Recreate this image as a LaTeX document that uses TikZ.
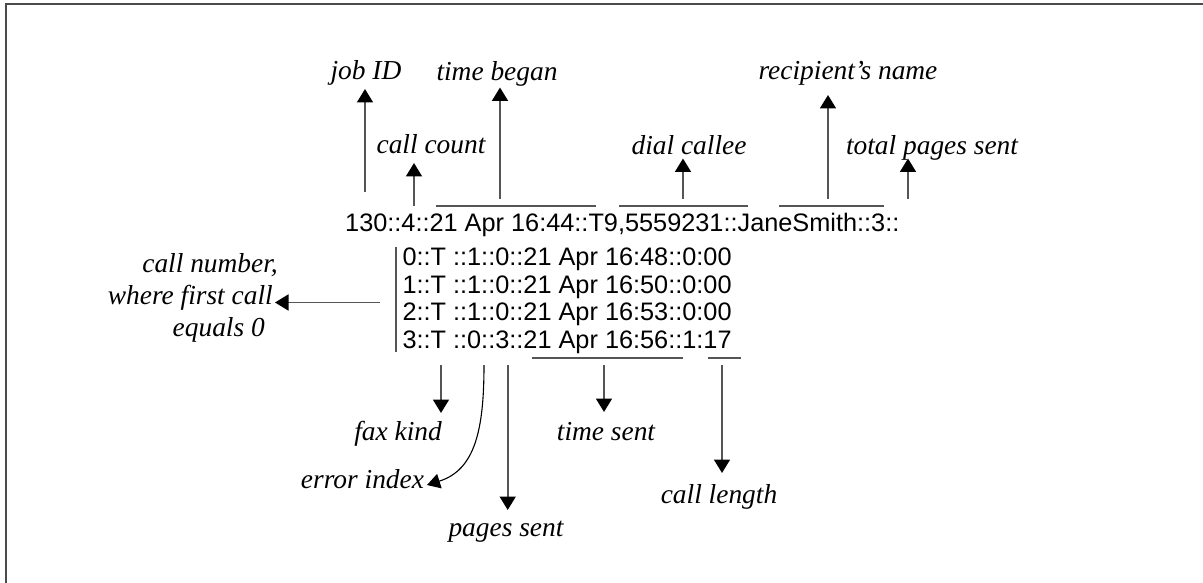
\documentclass[tikz,border=0pt]{standalone}
\usepackage{fontspec}
\setmainfont{Liberation Serif}
\newfontfamily\datafont{Liberation Sans}
\usetikzlibrary{arrows.meta}
\definecolor{linegray}{RGB}{85,85,85}
\definecolor{framegray}{RGB}{75,75,75}
\tikzset{
  lbl/.style={font=\itshape\fontsize{27.4}{32}\selectfont, inner sep=0pt, anchor=base},
  lblr/.style={lbl, anchor=base east},
  datarow/.style={font=\datafont\fontsize{25.3}{27.5}\selectfont, inner sep=0pt, anchor=base west},
  rule/.style={draw=linegray, line width=1.8pt},
  pointer/.style={draw=linegray, line width=1.8pt,
    -{Triangle[width=16pt,length=13.5pt,color=black]}},
  thinpointer/.style={draw=black, line width=1.1pt,
    -{Triangle[width=15pt,length=13pt,color=black]}},
}
\begin{document}
\begin{tikzpicture}[x=1pt,y=-1pt]
\useasboundingbox (0,0) rectangle (1203,583);

% frame edges
\draw[framegray, line width=2pt] (6,583) -- (6,4) -- (1203,4);

% header record and per-call lines
\node[datarow] (hdr) at (345,232) {130::4::21 Apr 16:44::T9,5559231::JaneSmith::3::};
\node[datarow] (r0) at (402.3,265.7) {0::T ::1::0::21 Apr 16:48::0:00};
\node[datarow] (r1) at (402.3,293.2) {1::T ::1::0::21 Apr 16:50::0:00};
\node[datarow] (r2) at (402.3,320.7) {2::T ::1::0::21 Apr 16:53::0:00};
\node[datarow] (r3) at (402.3,348.2) {3::T ::0::3::21 Apr 16:56::1:17};

% field labels above the header
\node[lbl] (jobid) at (366,80) {job ID};
\node[lbl] (tbegan) at (497,80.5) {time began};
\node[lbl] (rname) at (848,80) {recipient’s name};
\node[lbl] (ccount) at (431,153.5) {call count};
\node[lbl] (dcallee) at (689,154.5) {dial callee};
\node[lbl] (tpages) at (932,154.5) {total pages sent};

% call number label
\node[lblr] (cn1) at (278,272) {call number,};
\node[lblr] (cn2) at (273,304.5) {where first call};
\node[lblr] (cn3) at (265,336) {equals 0};

% field labels below the call lines
\node[lbl] (faxkind) at (398,440) {fax kind};
\node[lbl] (tsent) at (606,440) {time sent};
\node[lbl] (errindex) at (362.5,488) {error index};
\node[lbl] (psent) at (506,536.5) {pages sent};
\node[lbl] (clength) at (719,503.3) {call length};

% brackets over and under field groups
\draw[rule] (435.7,206) -- (596,206);
\draw[rule] (619,206) -- (748,206);
\draw[rule] (779,206) -- (884,206);
\draw[rule] (531.7,358.3) -- (683.3,358.3);
\draw[rule] (707.7,358.3) -- (740.7,358.3);
\draw[rule] (396,246.7) -- (396,351.7);

% arrow ends
\coordinate (jobidS) at (365,192);   \coordinate (jobidT) at (365,89);
\coordinate (ccountS) at (414,206);  \coordinate (ccountT) at (414,163);
\coordinate (tbeganS) at (500,199);  \coordinate (tbeganT) at (500,87.5);
\coordinate (dcalleeS) at (683,199); \coordinate (dcalleeT) at (683,158.5);
\coordinate (rnameS) at (828,199);   \coordinate (rnameT) at (828,95);
\coordinate (tpagesS) at (908,199);  \coordinate (tpagesT) at (908,158.5);
\coordinate (cnS) at (380,302.5);    \coordinate (cnT) at (275,302.5);
\coordinate (faxS) at (441,365);     \coordinate (faxT) at (441,413);
\coordinate (errS) at (484,365);     \coordinate (errT) at (427,485);
\coordinate (psentS) at (507.7,365); \coordinate (psentT) at (507.7,510);
\coordinate (tsentS) at (604,365);   \coordinate (tsentT) at (604,412);
\coordinate (clenS) at (722,365);    \coordinate (clenT) at (722,473);

% pointers
\draw[pointer] (jobidS) -- (jobidT);
\draw[pointer] (ccountS) -- (ccountT);
\draw[pointer] (tbeganS) -- (tbeganT);
\draw[pointer] (dcalleeS) -- (dcalleeT);
\draw[pointer] (rnameS) -- (rnameT);
\draw[pointer] (tpagesS) -- (tpagesT);
\draw[pointer] (cnS) -- (cnT);
\draw[pointer] (faxS) -- (faxT);
\draw[thinpointer] (errS) .. controls (484,430) and (475,470) .. (errT);
\draw[pointer] (psentS) -- (psentT);
\draw[pointer] (tsentS) -- (tsentT);
\draw[pointer] (clenS) -- (clenT);
\end{tikzpicture}
\end{document}
